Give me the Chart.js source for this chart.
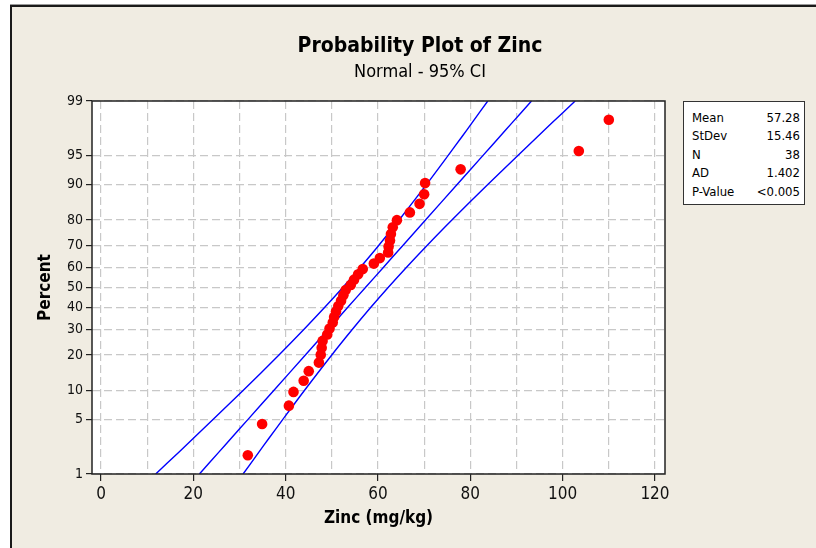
<!DOCTYPE html>
<html>
<head>
<meta charset="utf-8">
<script src="https://cdn.jsdelivr.net/npm/chart.js@4/dist/chart.umd.min.js"></script>
<style>
  html, body { margin: 0; padding: 0; background: #ffffff; }
  #wrap { position: relative; width: 816px; height: 548px; overflow: hidden; }
  #c { position: absolute; left: 0; top: 0; }
  .ttl { position: absolute; left: 0; width: 840px; text-align: center; color: #000;
         font-family: Tahoma, "DejaVu Sans Condensed", "DejaVu Sans", sans-serif; white-space: nowrap; }
  #title { top: 33px; font-size: 21px; font-weight: bold; }
  #subtitle { top: 60px; font-size: 18px; }
  #stats { position: absolute; left: 683px; top: 101px; width: 122px; height: 104px; box-sizing: border-box;
           border: 1px solid #333; background: #fff; padding: 7px 4px 0 8px;
           font-family: Tahoma, "DejaVu Sans Condensed", "DejaVu Sans", sans-serif; font-size: 13px; color: #000; }
  #stats .row { display: flex; justify-content: space-between; height: 18.4px; line-height: 18.4px; }
</style>
</head>
<body>
<div id="wrap">
  <canvas id="c" width="816" height="548"></canvas>
  <div id="title" class="ttl">Probability Plot of Zinc</div>
  <div id="subtitle" class="ttl">Normal - 95% CI</div>
  <div id="stats"></div>
</div>
<script>
// ---- Data ----
const zincValues = [31.8, 34.9, 40.7, 41.7, 43.9, 45.0, 47.2, 47.6, 47.8, 48.0,
  49.0, 49.5, 50.2, 50.5, 50.9, 51.4, 52.0, 52.5, 53.0, 54.1,
  54.8, 55.7, 56.7, 59.1, 60.4, 62.2, 62.3, 62.6, 62.8, 63.2,
  64.1, 66.9, 69.0, 70.0, 70.2, 77.9, 103.5, 110.0];
const zincPercents = [1.82, 4.43, 7.03, 9.64, 12.24, 14.84, 17.45, 20.05, 22.66, 25.26,
  27.86, 30.47, 33.07, 35.68, 38.28, 40.89, 43.49, 46.09, 48.70, 51.30,
  53.91, 56.51, 59.11, 61.72, 64.32, 66.93, 69.53, 72.14, 74.74, 77.34,
  79.95, 82.55, 85.16, 87.76, 90.36, 92.97, 95.57, 98.18];

const linePercents = [1, 2, 3, 5, 10, 20, 30, 40, 50, 60, 70, 80, 90, 95, 97, 98, 99];
const fitLine   = [21.32, 25.53, 28.20, 31.85, 37.47, 44.27, 49.17, 53.36, 57.28, 61.20, 65.39, 70.29, 77.09, 82.71, 86.36, 89.03, 93.25];
const lowerBand = [11.85, 16.86, 20.02, 24.31, 30.83, 38.55, 43.93, 48.37, 52.37, 56.20, 60.15, 64.57, 70.46, 75.17, 78.18, 80.36, 83.78];
const upperBand = [30.78, 34.20, 36.38, 39.39, 44.10, 49.99, 54.42, 58.36, 62.20, 66.19, 70.63, 76.01, 83.73, 90.25, 94.54, 97.70, 102.71];

const percentTicks = [1, 5, 10, 20, 30, 40, 50, 60, 70, 80, 90, 95, 99];
const xTickStep = 10;

const statLabels = ["Mean", "StDev", "N", "AD", "P-Value"];
const statValues = ["57.28", "15.46", "38", "1.402", "<0.005"];

// ---- stats box text ----
const statsEl = document.getElementById('stats');
statLabels.forEach((l, i) => {
  const r = document.createElement('div');
  r.className = 'row';
  r.innerHTML = '<span>' + l + '</span><span>' + statValues[i] + '</span>';
  statsEl.appendChild(r);
});

// ---- normal probability axis transform (inverse normal CDF, Acklam) ----
function probit(p) {
  const a = [-3.969683028665376e+01, 2.209460984245205e+02, -2.759285104469687e+02, 1.383577518672690e+02, -3.066479806614716e+01, 2.506628277459239e+00];
  const b = [-5.447609879822406e+01, 1.615858368580409e+02, -1.556989798598866e+02, 6.680131188771972e+01, -1.328068155288572e+01];
  const c = [-7.784894002430293e-03, -3.223964580411365e-01, -2.400758277161838e+00, -2.549732539343734e+00, 4.374664141464968e+00, 2.938163982698783e+00];
  const d = [7.784695709041462e-03, 3.224671290700398e-01, 2.445134137142996e+00, 3.754408661907416e+00];
  const pl = 0.02425, ph = 1 - pl;
  let q, r;
  if (p < pl) { q = Math.sqrt(-2 * Math.log(p));
    return (((((c[0]*q+c[1])*q+c[2])*q+c[3])*q+c[4])*q+c[5]) / ((((d[0]*q+d[1])*q+d[2])*q+d[3])*q+1); }
  if (p <= ph) { q = p - 0.5; r = q * q;
    return (((((a[0]*r+a[1])*r+a[2])*r+a[3])*r+a[4])*r+a[5])*q / (((((b[0]*r+b[1])*r+b[2])*r+b[3])*r+b[4])*r+1); }
  q = Math.sqrt(-2 * Math.log(1 - p));
  return -(((((c[0]*q+c[1])*q+c[2])*q+c[3])*q+c[4])*q+c[5]) / ((((d[0]*q+d[1])*q+d[2])*q+d[3])*q+1);
}
const zOf = pct => probit(pct / 100);

const pts = (xs, ps) => xs.map((x, i) => ({ x: x, y: zOf(ps[i]) }));

const FONT = 'Tahoma, "DejaVu Sans Condensed", "DejaVu Sans", sans-serif';
const BEIGE = '#F0ECE2';
const GRID = '#C8C8C8';

const framePlugin = {
  id: 'frame',
  beforeDraw(chart) {
    const ctx = chart.ctx, a = chart.chartArea;
    ctx.save();
    ctx.fillStyle = '#ffffff';
    ctx.fillRect(0, 0, chart.width, chart.height);
    ctx.fillStyle = BEIGE;
    ctx.fillRect(12, 7, chart.width - 12, chart.height - 7);
    ctx.fillStyle = '#9a9a9a';
    ctx.fillRect(10, 4, chart.width - 10, 1);
    ctx.fillStyle = '#1a1a1a';
    ctx.fillRect(10, 5, chart.width - 10, 2);
    ctx.fillRect(10, 5, 2, chart.height - 5);
    ctx.fillStyle = '#ffffff';
    ctx.fillRect(a.left, a.top, a.right - a.left, a.bottom - a.top);
    ctx.restore();
  },
  afterDatasetsDraw(chart) {
    const ctx = chart.ctx, a = chart.chartArea;
    ctx.save();
    ctx.strokeStyle = '#222';
    ctx.lineWidth = 1.5;
    ctx.strokeRect(a.left, a.top, a.right - a.left, a.bottom - a.top);
    ctx.restore();
  }
};

const lineDs = (xs, label) => ({
  label: label, data: pts(xs, linePercents), showLine: true, pointRadius: 0,
  borderColor: '#0000FF', borderWidth: 1.4, backgroundColor: '#0000FF', tension: 0.3, clip: 0
});

new Chart(document.getElementById('c'), {
  type: 'scatter',
  data: {
    datasets: [
      { label: 'Zinc', data: pts(zincValues, zincPercents), pointRadius: 5.3,
        pointBackgroundColor: '#FF0000', pointBorderColor: '#FF0000', pointBorderWidth: 0, showLine: false },
      lineDs(fitLine, 'Fit'),
      lineDs(lowerBand, 'Lower CI'),
      lineDs(upperBand, 'Upper CI')
    ]
  },
  options: {
    responsive: false,
    animation: false,
    events: [],
    layout: { padding: { left: 0, top: 101, right: 151, bottom: 0 } },
    plugins: { legend: { display: false }, tooltip: { enabled: false }, title: { display: false } },
    scales: {
      x: {
        type: 'linear', min: -1.95, max: 122.17,
        afterBuildTicks(scale) {
          const t = [];
          for (let v = 0; v <= 120; v += xTickStep) t.push({ value: v });
          scale.ticks = t;
        },
        afterFit(scale) { scale.height = 74; },
        ticks: { autoSkip: false, maxRotation: 0, padding: 3, color: '#111',
                 font: { family: FONT, size: 17 },
                 callback: v => (v % 20 === 0 ? String(v) : '') },
        grid: { color: GRID, lineWidth: 1.2, tickLength: 7, tickWidth: 1.2, tickBorderDash: [],
                tickColor: c => (c.tick && c.tick.value % 20 === 0 ? '#222' : 'rgba(0,0,0,0)') },
        border: { display: false, dash: [8, 4] },
        title: { display: true, text: 'Zinc (mg/kg)', color: '#000',
                 font: { family: FONT, size: 17, weight: 'bold' }, padding: { top: 0, bottom: 19 } }
      },
      y: {
        type: 'linear', min: zOf(1), max: zOf(99),
        afterBuildTicks(scale) { scale.ticks = percentTicks.map(p => ({ value: zOf(p) })); },
        afterFit(scale) { scale.width = 92; },
        ticks: { autoSkip: false, padding: 3, color: '#111', font: { family: FONT, size: 14 },
                 callback: (v, i) => String(percentTicks[i]) },
        grid: { color: GRID, lineWidth: 1.2, tickLength: 6, tickWidth: 1.2, tickColor: '#222', tickBorderDash: [] },
        border: { display: false, dash: [8, 4] },
        title: { display: true, text: 'Percent', color: '#000',
                 font: { family: FONT, size: 17, weight: 'bold' }, padding: { top: 35, bottom: 0 } }
      }
    }
  },
  plugins: [framePlugin]
});
</script>
</body>
</html>
